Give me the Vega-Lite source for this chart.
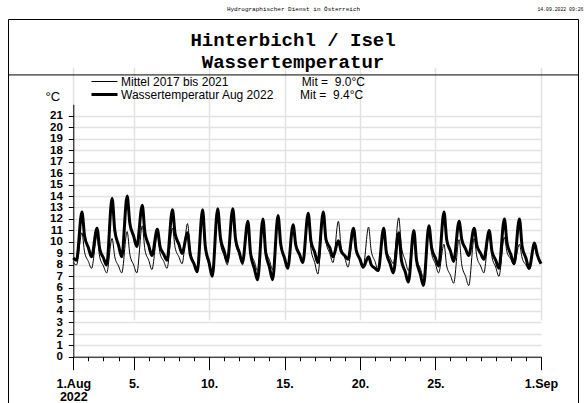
{
 "$schema": "https://vega.github.io/schema/vega-lite/v6.json",
 "autosize": "none",
 "width": 570,
 "height": 386,
 "padding": {"left": 8, "top": 19, "right": 8, "bottom": 0},
 "background": "white",
 "config": {
  "view": {"stroke": "black", "strokeWidth": 1},
  "font": "Liberation Sans"
 },
 "title": {"text": "Hinterbichl / Isel", "subtitle": "Wassertemperatur", "anchor": "middle", "frame": "group",
  "font": "Liberation Mono", "fontSize": 19, "fontWeight": "bold", "color": "black",
  "subtitleFont": "Liberation Mono", "subtitleFontSize": 19, "subtitleFontWeight": "bold", "subtitleColor": "black",
  "subtitlePadding": 3, "offset": -67},
 "data": {"values": [
    {"s":"m","t":1.0,"v":8.2},{"s":"m","t":1.21,"v":8.0},{"s":"m","t":1.57,"v":10.8},{"s":"m","t":1.75,"v":9.1},
    {"s":"m","t":2.0,"v":8.3},{"s":"m","t":2.21,"v":7.7},{"s":"m","t":2.57,"v":10.5},{"s":"m","t":2.75,"v":8.7},
    {"s":"m","t":3.0,"v":7.9},{"s":"m","t":3.21,"v":7.3},{"s":"m","t":3.57,"v":10.3},{"s":"m","t":3.75,"v":8.7},
    {"s":"m","t":4.0,"v":7.9},{"s":"m","t":4.21,"v":7.3},{"s":"m","t":4.57,"v":10.9},{"s":"m","t":4.75,"v":8.9},
    {"s":"m","t":5.0,"v":8.0},{"s":"m","t":5.21,"v":7.3},{"s":"m","t":5.57,"v":11.4},{"s":"m","t":5.75,"v":9.3},
    {"s":"m","t":6.0,"v":8.4},{"s":"m","t":6.21,"v":7.6},{"s":"m","t":6.57,"v":10.6},{"s":"m","t":6.75,"v":9.0},
    {"s":"m","t":7.0,"v":8.3},{"s":"m","t":7.21,"v":7.7},{"s":"m","t":7.57,"v":11.2},{"s":"m","t":7.75,"v":9.5},
    {"s":"m","t":8.0,"v":8.7},{"s":"m","t":8.21,"v":8.1},{"s":"m","t":8.57,"v":11.6},{"s":"m","t":8.75,"v":9.3},
    {"s":"m","t":9.0,"v":8.2},{"s":"m","t":9.21,"v":7.4},{"s":"m","t":9.57,"v":12.0},{"s":"m","t":9.75,"v":9.3},
    {"s":"m","t":10.0,"v":8.0},{"s":"m","t":10.21,"v":7.0},{"s":"m","t":10.57,"v":12.2},{"s":"m","t":10.75,"v":9.9},
    {"s":"m","t":11.0,"v":8.8},{"s":"m","t":11.21,"v":8.0},{"s":"m","t":11.57,"v":12.3},{"s":"m","t":11.75,"v":9.9},
    {"s":"m","t":12.0,"v":8.9},{"s":"m","t":12.21,"v":8.0},{"s":"m","t":12.57,"v":11.3},{"s":"m","t":12.75,"v":9.2},
    {"s":"m","t":13.0,"v":8.3},{"s":"m","t":13.21,"v":7.5},{"s":"m","t":13.57,"v":11.6},{"s":"m","t":13.75,"v":9.4},
    {"s":"m","t":14.0,"v":8.4},{"s":"m","t":14.21,"v":7.6},{"s":"m","t":14.57,"v":12.0},{"s":"m","t":14.75,"v":9.7},
    {"s":"m","t":15.0,"v":8.6},{"s":"m","t":15.21,"v":7.8},{"s":"m","t":15.57,"v":11.2},{"s":"m","t":15.75,"v":9.6},
    {"s":"m","t":16.0,"v":8.8},{"s":"m","t":16.21,"v":8.2},{"s":"m","t":16.57,"v":12.0},{"s":"m","t":16.75,"v":9.4},
    {"s":"m","t":17.0,"v":8.2},{"s":"m","t":17.21,"v":7.2},{"s":"m","t":17.57,"v":12.2},{"s":"m","t":17.75,"v":10.0},
    {"s":"m","t":18.0,"v":9.0},{"s":"m","t":18.21,"v":8.2},{"s":"m","t":18.57,"v":11.8},{"s":"m","t":18.75,"v":9.6},
    {"s":"m","t":19.0,"v":8.6},{"s":"m","t":19.21,"v":7.8},{"s":"m","t":19.57,"v":10.9},{"s":"m","t":19.75,"v":9.2},
    {"s":"m","t":20.0,"v":8.4},{"s":"m","t":20.21,"v":7.8},{"s":"m","t":20.57,"v":11.3},{"s":"m","t":20.75,"v":9.2},
    {"s":"m","t":21.0,"v":8.3},{"s":"m","t":21.21,"v":7.5},{"s":"m","t":21.57,"v":10.8},{"s":"m","t":21.75,"v":9.3},
    {"s":"m","t":22.0,"v":8.6},{"s":"m","t":22.21,"v":8.1},{"s":"m","t":22.57,"v":12.1},{"s":"m","t":22.75,"v":9.6},
    {"s":"m","t":23.0,"v":8.4},{"s":"m","t":23.21,"v":7.5},{"s":"m","t":23.57,"v":10.7},{"s":"m","t":23.75,"v":8.6},
    {"s":"m","t":24.0,"v":7.7},{"s":"m","t":24.21,"v":6.9},{"s":"m","t":24.57,"v":11.1},{"s":"m","t":24.75,"v":9.0},
    {"s":"m","t":25.0,"v":8.1},{"s":"m","t":25.21,"v":7.3},{"s":"m","t":25.57,"v":9.8},{"s":"m","t":25.75,"v":7.9},
    {"s":"m","t":26.0,"v":7.1},{"s":"m","t":26.21,"v":6.4},{"s":"m","t":26.57,"v":10.2},{"s":"m","t":26.75,"v":8.0},
    {"s":"m","t":27.0,"v":7.0},{"s":"m","t":27.21,"v":6.2},{"s":"m","t":27.57,"v":10.3},{"s":"m","t":27.75,"v":8.7},
    {"s":"m","t":28.0,"v":7.9},{"s":"m","t":28.21,"v":7.3},{"s":"m","t":28.57,"v":10.8},{"s":"m","t":28.75,"v":8.7},
    {"s":"m","t":29.0,"v":7.8},{"s":"m","t":29.21,"v":7.0},{"s":"m","t":29.57,"v":10.4},{"s":"m","t":29.75,"v":9.1},
    {"s":"m","t":30.0,"v":8.5},{"s":"m","t":30.21,"v":8.0},{"s":"m","t":30.57,"v":9.8},{"s":"m","t":30.75,"v":8.6},
    {"s":"m","t":31.0,"v":8.0},{"s":"m","t":31.21,"v":7.6},{"s":"m","t":31.57,"v":9.7},{"s":"m","t":31.75,"v":8.8},
    {"s":"m","t":32.0,"v":8.2},
    {"s":"w","t":1.0,"v":8.6},{"s":"w","t":1.21,"v":8.4},{"s":"w","t":1.57,"v":12.6},{"s":"w","t":1.75,"v":10.5},
    {"s":"w","t":2.0,"v":9.5},{"s":"w","t":2.21,"v":8.7},{"s":"w","t":2.57,"v":11.2},{"s":"w","t":2.75,"v":9.4},
    {"s":"w","t":3.0,"v":8.6},{"s":"w","t":3.21,"v":8.0},{"s":"w","t":3.57,"v":13.8},{"s":"w","t":3.75,"v":11.0},
    {"s":"w","t":4.0,"v":9.7},{"s":"w","t":4.21,"v":8.7},{"s":"w","t":4.57,"v":14.0},{"s":"w","t":4.75,"v":11.6},
    {"s":"w","t":5.0,"v":10.5},{"s":"w","t":5.21,"v":9.6},{"s":"w","t":5.57,"v":13.2},{"s":"w","t":5.75,"v":10.8},
    {"s":"w","t":6.0,"v":9.7},{"s":"w","t":6.21,"v":8.8},{"s":"w","t":6.57,"v":11.1},{"s":"w","t":6.75,"v":9.6},
    {"s":"w","t":7.0,"v":8.9},{"s":"w","t":7.21,"v":8.4},{"s":"w","t":7.57,"v":12.8},{"s":"w","t":7.75,"v":10.7},
    {"s":"w","t":8.0,"v":9.8},{"s":"w","t":8.21,"v":9.0},{"s":"w","t":8.57,"v":10.8},{"s":"w","t":8.75,"v":8.9},
    {"s":"w","t":9.0,"v":8.1},{"s":"w","t":9.21,"v":7.4},{"s":"w","t":9.57,"v":12.8},{"s":"w","t":9.75,"v":9.6},
    {"s":"w","t":10.0,"v":8.2},{"s":"w","t":10.21,"v":7.0},{"s":"w","t":10.57,"v":12.9},{"s":"w","t":10.75,"v":10.4},
    {"s":"w","t":11.0,"v":9.2},{"s":"w","t":11.21,"v":8.3},{"s":"w","t":11.57,"v":12.9},{"s":"w","t":11.75,"v":10.3},
    {"s":"w","t":12.0,"v":9.1},{"s":"w","t":12.21,"v":8.2},{"s":"w","t":12.57,"v":11.8},{"s":"w","t":12.75,"v":9.0},
    {"s":"w","t":13.0,"v":7.7},{"s":"w","t":13.21,"v":6.7},{"s":"w","t":13.57,"v":12.0},{"s":"w","t":13.75,"v":9.1},
    {"s":"w","t":14.0,"v":7.8},{"s":"w","t":14.21,"v":6.7},{"s":"w","t":14.57,"v":12.3},{"s":"w","t":14.75,"v":9.8},
    {"s":"w","t":15.0,"v":8.6},{"s":"w","t":15.21,"v":7.7},{"s":"w","t":15.57,"v":11.5},{"s":"w","t":15.75,"v":9.7},
    {"s":"w","t":16.0,"v":8.9},{"s":"w","t":16.21,"v":8.2},{"s":"w","t":16.57,"v":12.5},{"s":"w","t":16.75,"v":10.1},
    {"s":"w","t":17.0,"v":9.1},{"s":"w","t":17.21,"v":8.2},{"s":"w","t":17.57,"v":12.6},{"s":"w","t":17.75,"v":10.2},
    {"s":"w","t":18.0,"v":9.5},{"s":"w","t":18.21,"v":8.7},{"s":"w","t":18.57,"v":10.1},{"s":"w","t":18.75,"v":9.2},
    {"s":"w","t":19.0,"v":8.8},{"s":"w","t":19.21,"v":8.5},{"s":"w","t":19.57,"v":11.2},{"s":"w","t":19.75,"v":9.3},
    {"s":"w","t":20.0,"v":8.5},{"s":"w","t":20.21,"v":7.8},{"s":"w","t":20.57,"v":8.7},{"s":"w","t":20.75,"v":8.0},
    {"s":"w","t":21.0,"v":7.7},{"s":"w","t":21.21,"v":7.5},{"s":"w","t":21.57,"v":11.2},{"s":"w","t":21.75,"v":9.1},
    {"s":"w","t":22.0,"v":8.1},{"s":"w","t":22.21,"v":7.3},{"s":"w","t":22.57,"v":10.8},{"s":"w","t":22.75,"v":8.4},
    {"s":"w","t":23.0,"v":7.4},{"s":"w","t":23.21,"v":6.5},{"s":"w","t":23.57,"v":11.0},{"s":"w","t":23.75,"v":8.4},
    {"s":"w","t":24.0,"v":7.2},{"s":"w","t":24.21,"v":6.2},{"s":"w","t":24.57,"v":11.4},{"s":"w","t":24.75,"v":9.5},
    {"s":"w","t":25.0,"v":8.6},{"s":"w","t":25.21,"v":7.9},{"s":"w","t":25.57,"v":12.6},{"s":"w","t":25.75,"v":10.2},
    {"s":"w","t":26.0,"v":9.2},{"s":"w","t":26.21,"v":8.3},{"s":"w","t":26.57,"v":11.8},{"s":"w","t":26.75,"v":10.2},
    {"s":"w","t":27.0,"v":9.4},{"s":"w","t":27.21,"v":8.8},{"s":"w","t":27.57,"v":11.2},{"s":"w","t":27.75,"v":9.7},
    {"s":"w","t":28.0,"v":9.0},{"s":"w","t":28.21,"v":8.5},{"s":"w","t":28.57,"v":11.0},{"s":"w","t":28.75,"v":9.2},
    {"s":"w","t":29.0,"v":8.4},{"s":"w","t":29.21,"v":7.7},{"s":"w","t":29.57,"v":12.0},{"s":"w","t":29.75,"v":9.9},
    {"s":"w","t":30.0,"v":8.9},{"s":"w","t":30.21,"v":8.1},{"s":"w","t":30.57,"v":12.0},{"s":"w","t":30.75,"v":9.6},
    {"s":"w","t":31.0,"v":8.6},{"s":"w","t":31.21,"v":7.7},{"s":"w","t":31.57,"v":9.9},{"s":"w","t":31.75,"v":8.9},
    {"s":"w","t":32.0,"v":8.1}
 ]},
 "layer": [
  {
   "data": {"values": [{"note": "separator"}]},
   "mark": {"type": "rule", "color": "black", "strokeWidth": 1},
   "encoding": {
    "y": {"datum": 24.55, "type": "quantitative",
     "scale": {"domain": [0, 22], "range": [337.7, 85.2], "nice": false, "zero": false},
     "axis": {"offset": -65.3, "values": [0,1,2,3,4,5,6,7,8,9,10,11,12,13,14,15,16,17,18,19,20,21],
      "title": "°C", "titleAngle": 0, "titleX": -21, "titleY": 81, "titleAlign": "center", "titleBaseline": "alphabetic",
      "titleFont": "Liberation Sans", "titleFontSize": 13, "titleFontWeight": "normal", "titleColor": "black",
      "tickSize": 5, "tickColor": "black", "domainColor": "black", "grid": true, "gridColor": "#e2e2e2", "gridWidth": 1.5,
      "labelFont": "Liberation Sans", "labelFontSize": 11.5, "labelFontWeight": "bold", "labelColor": "black",
      "labelPadding": 6, "labelOverlap": false, "labelBound": false, "labelFlush": false}}
   }
  },
  {
   "transform": [{"filter": "datum.s == 'm'"}],
   "mark": {"type": "line", "color": "black", "interpolate": "monotone"},
   "encoding": {
    "x": {"field": "t", "type": "quantitative",
     "scale": {"domain": [1, 32], "range": [65.3, 533], "nice": false, "zero": false},
     "axis": {"orient": "bottom", "offset": -48.3, "values": [1, 5, 10, 15, 20, 25, 32],
      "title": "Hydrographischer Dienst in Österreich", "titleX": 285, "titleY": -346.7, "titleAlign": "center", "titleAngle": 0,
      "titleBaseline": "alphabetic", "titleFont": "Liberation Mono", "titleFontSize": 6, "titleFontWeight": "normal", "titleColor": "black",
      "tickSize": 13, "tickColor": "black", "domainColor": "black", "grid": true, "gridColor": "#e2e2e2", "gridWidth": 1.5,
      "labelExpr": "datum.value == 1 ? ['1.Aug', '2022'] : (datum.value == 32 ? '1.Sep' : datum.value + '.')",
      "labelFont": "Liberation Sans", "labelFontSize": 12.5, "labelFontWeight": "bold", "labelColor": "black",
      "labelPadding": 8, "labelLineHeight": 13, "labelFlush": false, "labelOverlap": false, "labelBound": false}},
    "y": {"field": "v", "type": "quantitative",
     "axis": {"offset": -65.3, "values": [0,1,2,3,4,5,6,7,8,9,10,11,12,13,14,15,16,17,18,19,20,21],
      "title": "°C", "titleAngle": 0, "titleX": -21, "titleY": 81, "titleAlign": "center", "titleBaseline": "alphabetic",
      "titleFont": "Liberation Sans", "titleFontSize": 13, "titleFontWeight": "normal", "titleColor": "black",
      "tickSize": 5, "tickColor": "black", "domainColor": "black", "grid": true, "gridColor": "#e2e2e2", "gridWidth": 1.5,
      "labelFont": "Liberation Sans", "labelFontSize": 11.5, "labelFontWeight": "bold", "labelColor": "black",
      "labelPadding": 6, "labelOverlap": false, "labelBound": false, "labelFlush": false}},
    "strokeWidth": {"field": "s", "type": "ordinal",
     "scale": {"domain": ["m", "w"], "range": [1, 3]},
     "legend": {"orient": "none", "legendX": 82, "legendY": 57, "title": null, "padding": 0,
      "symbolType": "stroke", "symbolSize": 676, "symbolStrokeColor": "black", "clipHeight": 11, "rowPadding": 0,
      "labelFont": "Liberation Sans", "labelFontSize": 12, "labelColor": "black", "labelOffset": 2, "labelLimit": 500,
      "labelExpr": "datum.value == 'm' ? 'Mittel 2017 bis 2021\u00a0\u00a0\u00a0\u00a0\u00a0\u00a0\u00a0\u00a0\u00a0\u00a0\u00a0\u00a0\u00a0\u00a0\u00a0\u00a0\u00a0\u00a0\u00a0\u00a0\u00a0\u00a0Mit =\u00a0\u00a09.0°C' : 'Wassertemperatur Aug 2022\u00a0\u00a0\u00a0\u00a0\u00a0\u00a0\u00a0\u00a0Mit =\u00a0\u00a09.4°C'"}}
   }
  },
  {
   "transform": [{"filter": "datum.s == 'w'"}],
   "mark": {"type": "line", "color": "black", "interpolate": "monotone"},
   "encoding": {
    "x": {"field": "t", "type": "quantitative",
     "axis": {"orient": "bottom", "offset": -48.3,
      "values": [1,2,3,4,5,6,7,8,9,10,11,12,13,14,15,16,17,18,19,20,21,22,23,24,25,26,27,28,29,30,31,32],
      "title": "14.09.2022 09:26", "titleX": 575, "titleY": -346.7, "titleAlign": "right", "titleAngle": 0,
      "titleBaseline": "alphabetic", "titleFont": "Liberation Mono", "titleFontSize": 4.8, "titleFontWeight": "normal", "titleColor": "black",
      "tickSize": 4, "tickColor": "black", "labels": false, "domain": false, "grid": false}},
    "y": {"field": "v", "type": "quantitative",
     "axis": {"offset": -65.3, "values": [0,1,2,3,4,5,6,7,8,9,10,11,12,13,14,15,16,17,18,19,20,21],
      "title": "°C", "titleAngle": 0, "titleX": -21, "titleY": 81, "titleAlign": "center", "titleBaseline": "alphabetic",
      "titleFont": "Liberation Sans", "titleFontSize": 13, "titleFontWeight": "normal", "titleColor": "black",
      "tickSize": 5, "tickColor": "black", "domainColor": "black", "grid": true, "gridColor": "#e2e2e2", "gridWidth": 1.5,
      "labelFont": "Liberation Sans", "labelFontSize": 11.5, "labelFontWeight": "bold", "labelColor": "black",
      "labelPadding": 6, "labelOverlap": false, "labelBound": false, "labelFlush": false}},
    "strokeWidth": {"field": "s", "type": "ordinal"}
   }
  }
 ],
 "resolve": {"axis": {"x": "independent"}}
}
